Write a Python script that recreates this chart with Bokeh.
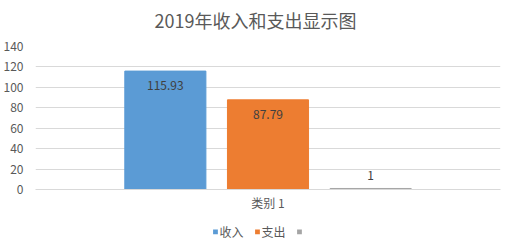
from bokeh.plotting import figure
from bokeh.layouts import column
from bokeh.models import ColumnDataSource, FactorRange, SingleIntervalTicker, Legend, LegendItem, Label
from bokeh.core.properties import value
from bokeh.embed import file_html
from bokeh.resources import INLINE

title = "2019年收入和支出显示图"
category = "类别 1"
series = ["收入", "支出", " "]
values = [115.93, 87.79, 1]
colors = ["#5B9BD5", "#ED7D31", "#A5A5A5"]
labels = ["115.93", "87.79", "1"]

FONT = "Noto Sans CJK SC"

# title strip
t = figure(width=512, height=32, output_backend="svg", toolbar_location=None,
           x_range=(0, 1), y_range=(0, 1), x_axis_location=None, y_axis_location=None)
t.grid.visible = False
t.outline_line_color = None
t.min_border = 0
t.add_layout(Label(x=220, y=13, x_units="screen", y_units="screen", text=title,
                   text_align="center", text_baseline="middle", text_font=FONT,
                   text_font_size="18px", text_color="#595959"))

# main chart
p = figure(width=512, height=186, output_backend="svg", toolbar_location=None,
           x_range=FactorRange(factors=series, range_padding=0.765, range_padding_units="absolute"),
           y_range=(0, 140))

for i, s in enumerate(series):
    src = ColumnDataSource(dict(x=[s], top=[values[i]]))
    p.vbar(x="x", top="top", width=0.79, color=colors[i], source=src)

inside = [i for i, v in enumerate(values) if v > 10]
outside = [i for i, v in enumerate(values) if v <= 10]
p.text(x=[series[i] for i in inside], y=[values[i] for i in inside],
       text=[labels[i] for i in inside], text_align="center", text_baseline="top",
       y_offset=10, text_font=value(FONT), text_font_size="12px", text_color="#404040")
p.text(x=[series[i] for i in outside], y=[values[i] for i in outside],
       text=[labels[i] for i in outside], text_align="center", text_baseline="bottom",
       y_offset=-8, text_font=value(FONT), text_font_size="12px", text_color="#404040")

p.outline_line_color = None
p.min_border_left = 33
p.min_border_right = 12
p.min_border_top = 14
p.min_border_bottom = 29

p.yaxis.ticker = SingleIntervalTicker(interval=20)
p.yaxis.axis_line_color = None
p.yaxis.major_tick_line_color = None
p.yaxis.major_tick_out = 0
p.yaxis.major_tick_in = 0
p.yaxis.minor_tick_line_color = None
p.yaxis.major_label_text_font = FONT
p.yaxis.major_label_text_font_size = "12px"
p.yaxis.major_label_text_color = "#595959"
p.yaxis.major_label_standoff = 8

p.xaxis.axis_line_color = "#D9D9D9"
p.xaxis.major_tick_line_color = None
p.xaxis.major_tick_out = 0
p.xaxis.major_tick_in = 0
p.xaxis.major_label_text_alpha = 0
p.xaxis.major_label_text_font_size = "4px"
p.xaxis.major_label_standoff = 0
p.xaxis.axis_label = category
p.xaxis.axis_label_text_font = FONT
p.xaxis.axis_label_text_font_size = "12px"
p.xaxis.axis_label_text_font_style = "normal"
p.xaxis.axis_label_text_color = "#595959"
p.xaxis.axis_label_standoff = 4

p.xgrid.grid_line_color = None
p.ygrid.grid_line_color = "#D9D9D9"

# legend strip (zero-height proxy bars carry the series colours)
q = figure(width=512, height=26, output_backend="svg", toolbar_location=None,
           x_range=FactorRange(factors=series), y_range=(0, 1),
           x_axis_location=None, y_axis_location=None)
q.grid.visible = False
q.outline_line_color = None
q.min_border = 0
items = []
for i, s in enumerate(series):
    r = q.vbar(x=[s], top=[0], bottom=[0], width=0.5, fill_color=colors[i], line_color=None)
    items.append(LegendItem(label=s, renderers=[r]))
leg = Legend(items=items, location="center", orientation="horizontal")
leg.border_line_color = None
leg.background_fill_alpha = 0
leg.label_text_font = FONT
leg.label_text_font_size = "12px"
leg.label_text_color = "#595959"
leg.glyph_width = 6
leg.glyph_height = 6
leg.label_standoff = 2
leg.spacing = 10
leg.padding = 0
leg.margin = 0
q.add_layout(leg, "center")

layout = column(t, p, q, spacing=0)
open("out.html", "w").write(file_html(layout, INLINE))
